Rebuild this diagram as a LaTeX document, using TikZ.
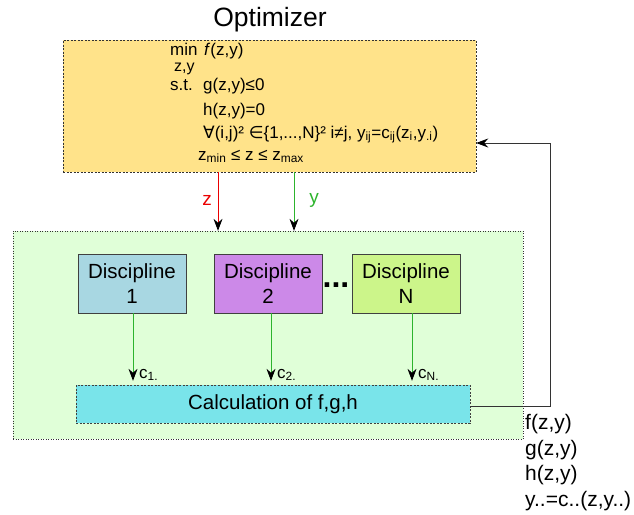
\documentclass[tikz,border=0pt]{standalone}
\usepackage{fontspec}
\setmainfont{Liberation Sans}
\newfontfamily\symf{DejaVu Sans}
\usetikzlibrary{arrows.meta}
\definecolor{optyellow}{RGB}{255,227,138}
\definecolor{grpgreen}{RGB}{224,255,216}
\definecolor{discblue}{RGB}{168,215,226}
\definecolor{discpurple}{RGB}{204,137,232}
\definecolor{disclime}{RGB}{204,245,138}
\definecolor{calccyan}{RGB}{121,228,234}
\definecolor{zred}{RGB}{235,0,0}
\definecolor{ygreen}{RGB}{45,180,45}
\tikzset{
	flow/.style={-{Stealth[length=12pt,width=9pt,inset=4pt,color=black]}, line width=0.8pt},
	optbox/.style={draw=black!80, dash pattern=on 2pt off 1.5pt, fill=optyellow, inner sep=0pt, minimum width=413pt, minimum height=132pt},
	grpbox/.style={draw=black!80, dash pattern=on 1pt off 1.5pt, fill=grpgreen, inner sep=0pt, minimum width=510pt, minimum height=208pt},
	discbox/.style={draw=black!75, line width=0.9pt, inner sep=0pt, minimum width=108pt, minimum height=59pt, align=center, font=\fontsize{20.5}{25.5}\selectfont},
	calcbox/.style={draw=black!75, dash pattern=on 2pt off 1.5pt, fill=calccyan, inner sep=0pt, minimum width=394pt, minimum height=38pt, font=\fontsize{20.5}{24}\selectfont},
	formula/.style={anchor=base west, inner sep=0pt, font=\fontsize{17}{20}\selectfont},
	outtxt/.style={anchor=base west, inner sep=0pt, font=\fontsize{21}{24}\selectfont},
	clabel/.style={anchor=base west, inner sep=0pt, font=\fontsize{17}{20}\selectfont},
	varlabel/.style={anchor=base, inner sep=0pt, font=\fontsize{19}{22}\selectfont}
}

\begin{document}
\begin{tikzpicture}[x=1pt,y=-1pt]
	%%%%% START %%%%%
	\useasboundingbox (0,0) rectangle (634,514);
	
	\node[anchor=base, inner sep=0pt, font=\fontsize{26.5}{30}\selectfont] (title) at (270,27) {Optimizer};
	
	% optimizer problem
	\node[optbox] (opt) at (269.5,106) {};
	\node[formula] (min) at (170,55) {min};
	\node[formula, font=\fontsize{16}{18}\selectfont] (minvars) at (174,71) {z,y};
	\node[formula] (obj) at (204,55) {\textit{f}(z,y)};
	\node[formula] (st) at (170,90) {s.t.};
	\node[formula] (gcon) at (203,90) {g(z,y)≤0};
	\node[formula] (hcon) at (203,115) {h(z,y)=0};
	\node[formula] (cons) at (203,138) {{\symf ∀}(i,j)² {\symf ∈}\{1,...,N\}² i≠j, y\textsubscript{ij}=c\textsubscript{ij}(z\textsubscript{i},y\textsubscript{.i})};
	\node[formula] (bounds) at (198,160) {z\textsubscript{min} ≤ z ≤ z\textsubscript{max}};
	
	% disciplines
	\node[grpbox] (grp) at (268,335) {};
	\node[discbox, fill=discblue] (d1) at (132,283.5) {Discipline\\1};
	\node[discbox, fill=discpurple] (d2) at (268,283.5) {Discipline\\2};
	\node[discbox, fill=disclime] (dN) at (406,283.5) {Discipline\\N};
	\node[anchor=base, inner sep=0pt, font=\bfseries\fontsize{32}{32}\selectfont] (dots) at (336,287) {...};
	\node[calcbox] (calc) at (273,404) {Calculation of f,g,h};
	
	% z and y
	\coordinate (zx) at (218,0);
	\coordinate (yx) at (294,0);
	\draw[flow, zred] (zx |- opt.south) -- (zx |- grp.north);
	\draw[flow, ygreen] (yx |- opt.south) -- (yx |- grp.north);
	\node[varlabel, text=zred] (zlab) at (207,205) {z};
	\node[varlabel, text=ygreen] (ylab) at (314,203) {y};
	
	% coupling outputs
	\coordinate (c1x) at (133,0);
	\coordinate (c2x) at (271,0);
	\coordinate (cNx) at (412,0);
	\draw[flow, ygreen, shorten >=4pt] (c1x |- d1.south) -- (c1x |- calc.north);
	\draw[flow, ygreen, shorten >=4pt] (c2x |- d2.south) -- (c2x |- calc.north);
	\draw[flow, ygreen, shorten >=4pt] (cNx |- dN.south) -- (cNx |- calc.north);
	\node[clabel] (c1) at (139,378) {c\textsubscript{1.}};
	\node[clabel] (c2) at (277,378) {c\textsubscript{2.}};
	\node[clabel] (cN) at (418,378) {c\textsubscript{N.}};
	
	% feedback
	\coordinate (fb) at (550,143);
	\draw[flow, draw=black!80] ([yshift=-2pt]calc.east) -| (fb) -- (fb -| opt.east);
	\node[outtxt] (fout) at (525,429) {f(z,y)};
	\node[outtxt] (gout) at (525,455) {g(z,y)};
	\node[outtxt] (hout) at (525,480) {h(z,y)};
	\node[outtxt] (yout) at (525,506) {y..=c..(z,y..)};
	%%%%% END %%%%%
\end{tikzpicture}
\end{document}
